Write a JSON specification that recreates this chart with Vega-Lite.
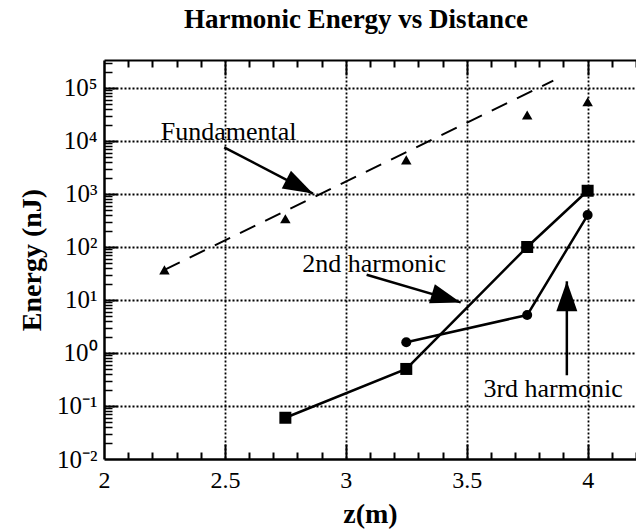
{
  "$schema": "https://vega.github.io/schema/vega-lite/v6.json",
  "width": 532,
  "height": 399,
  "autosize": {"type": "none"},
  "padding": {"left": 104, "top": 60, "right": 0, "bottom": 72},
  "background": "white",
  "view": {"stroke": null},
  "config": {"font": "Liberation Serif"},
  "title": {"text": "Harmonic Energy vs Distance", "font": "Liberation Serif", "fontSize": 27, "fontWeight": "bold", "color": "black", "offset": 25, "dx": -14},
  "datasets": {
    "points": [
      {"series": "Fundamental", "z": 2.25, "energy": 37},
      {"series": "Fundamental", "z": 2.75, "energy": 340},
      {"series": "Fundamental", "z": 3.25, "energy": 4400},
      {"series": "Fundamental", "z": 3.75, "energy": 31000},
      {"series": "Fundamental", "z": 4.0, "energy": 55000},
      {"series": "2nd harmonic", "z": 2.75, "energy": 0.06},
      {"series": "2nd harmonic", "z": 3.25, "energy": 0.5},
      {"series": "2nd harmonic", "z": 3.75, "energy": 100},
      {"series": "2nd harmonic", "z": 4.0, "energy": 1150},
      {"series": "3rd harmonic", "z": 3.25, "energy": 1.6},
      {"series": "3rd harmonic", "z": 3.75, "energy": 5.2},
      {"series": "3rd harmonic", "z": 4.0, "energy": 400}
    ],
    "fit": [
      {"z": 2.25, "energy": 37},
      {"z": 3.858, "energy": 137000}
    ],
    "notes": [
      {"label": "Fundamental", "z": 2.235, "energy": 10600},
      {"label": "2nd harmonic", "z": 2.82, "energy": 34},
      {"label": "3rd harmonic", "z": 3.569, "energy": 0.15}
    ],
    "arrows": [
      {"name": "Fundamental", "z": 2.497, "energy": 7570, "z2": 2.864, "energy2": 1020},
      {"name": "2nd harmonic", "z": 3.086, "energy": 30, "z2": 3.475, "energy2": 9.0},
      {"name": "3rd harmonic", "z": 3.914, "energy": 0.38, "z2": 3.914, "energy2": 22.5}
    ]
  },
  "resolve": {"axis": {"x": "independent", "y": "independent"}},
  "layer": [
    {
      "data": {"name": "fit"},
      "mark": {"type": "line", "color": "black", "strokeWidth": 2, "strokeDash": [17, 11]},
      "encoding": {
        "x": {"field": "z", "type": "quantitative", "scale": {"domain": [2, 4.2], "nice": false, "zero": false},
          "axis": {"orient": "bottom", "values": [2, 2.5, 3, 3.5, 4], "format": "~g", "ticks": false, "grid": false, "domain": true, "domainColor": "black", "domainWidth": 2.5, "labelFont": "Liberation Serif", "labelFontWeight": "normal", "labelFontSize": 24, "labelColor": "black", "labelPadding": 9, "labelFlush": false, "labelOverlap": false, "title": "z(m)", "titleFont": "Liberation Serif", "titleFontSize": 28, "titleFontWeight": "bold", "titleColor": "black", "titlePadding": 8}},
        "y": {"field": "energy", "type": "quantitative", "scale": {"type": "log", "domain": [0.01, 337000], "nice": false},
          "axis": {"orient": "left", "values": [0.01, 0.1, 1, 10, 100, 1000, 10000, 100000], "labelExpr": "'10' + ['⁻²','⁻¹','⁰','¹','²','³','⁴','⁵'][round(log(datum.value)/LN10) + 2]", "ticks": false, "grid": false, "domain": true, "domainColor": "black", "domainWidth": 2.5, "labelFont": "Liberation Serif", "labelFontWeight": "normal", "labelFontSize": 25, "labelColor": "black", "labelPadding": 7, "labelFlush": false, "labelOverlap": false, "title": "Energy (nJ)", "titleFont": "Liberation Serif", "titleFontSize": 28, "titleFontWeight": "bold", "titleColor": "black", "titlePadding": 10}}
      }
    },
    {
      "data": {"name": "points"},
      "transform": [{"filter": "datum.series === '2nd harmonic'"}],
      "mark": {"type": "line", "color": "black", "strokeWidth": 2.5},
      "encoding": {
        "x": {"field": "z", "type": "quantitative", "scale": {"domain": [2, 4.2], "nice": false, "zero": false},
          "axis": {"orient": "bottom", "values": [2.1, 2.2, 2.3, 2.4, 2.6, 2.7, 2.8, 2.9, 3.1, 3.2, 3.3, 3.4, 3.6, 3.7, 3.8, 3.9, 4.1, 4.2], "tickSize": -7, "tickWidth": 2, "tickColor": "black", "labels": false, "domain": false, "grid": false, "title": null}},
        "y": {"field": "energy", "type": "quantitative", "scale": {"type": "log", "domain": [0.01, 337000], "nice": false},
          "axis": {"orient": "left", "values": [0.02, 0.03, 0.04, 0.05, 0.06, 0.07, 0.08, 0.09, 0.2, 0.3, 0.4, 0.5, 0.6, 0.7, 0.8, 0.9, 2, 3, 4, 5, 6, 7, 8, 9, 20, 30, 40, 50, 60, 70, 80, 90, 200, 300, 400, 500, 600, 700, 800, 900, 2000, 3000, 4000, 5000, 6000, 7000, 8000, 9000, 20000, 30000, 40000, 50000, 60000, 70000, 80000, 90000, 200000, 300000], "tickSize": -8, "tickWidth": 1.5, "tickColor": "black", "labels": false, "domain": false, "grid": false, "title": null}}
      }
    },
    {
      "data": {"name": "points"},
      "transform": [{"filter": "datum.series === '3rd harmonic'"}],
      "mark": {"type": "line", "color": "black", "strokeWidth": 2.5},
      "encoding": {
        "x": {"field": "z", "type": "quantitative", "scale": {"domain": [2, 4.2], "nice": false, "zero": false},
          "axis": {"orient": "bottom", "values": [2.5, 3, 3.5, 4], "tickSize": -15, "tickWidth": 2, "tickColor": "black", "labels": false, "domain": false, "grid": true, "gridColor": "black", "gridDash": [2, 2], "gridWidth": 1.8, "gridOpacity": 1, "title": null}},
        "y": {"field": "energy", "type": "quantitative", "scale": {"type": "log", "domain": [0.01, 337000], "nice": false},
          "axis": {"orient": "left", "values": [0.1, 1, 10, 100, 1000, 10000, 100000], "tickSize": -13, "tickWidth": 2, "tickColor": "black", "labels": false, "domain": false, "grid": true, "gridColor": "black", "gridDash": [2, 2], "gridWidth": 1.8, "gridOpacity": 1, "title": null}}
      }
    },
    {
      "data": {"name": "points"},
      "transform": [{"filter": "datum.series === 'Fundamental'"}],
      "mark": {"type": "point", "shape": "triangle-up", "size": 110, "filled": true, "color": "black", "opacity": 1},
      "encoding": {
        "x": {"field": "z", "type": "quantitative", "scale": {"domain": [2, 4.2], "nice": false, "zero": false},
          "axis": {"orient": "top", "values": [2.1, 2.2, 2.3, 2.4, 2.6, 2.7, 2.8, 2.9, 3.1, 3.2, 3.3, 3.4, 3.6, 3.7, 3.8, 3.9, 4.1, 4.2], "tickSize": -7, "tickWidth": 2, "tickColor": "black", "labels": false, "domain": true, "domainColor": "black", "domainWidth": 2, "grid": false, "title": null}},
        "y": {"field": "energy", "type": "quantitative", "scale": {"type": "log", "domain": [0.01, 337000], "nice": false}, "axis": null}
      }
    },
    {
      "data": {"name": "points"},
      "transform": [{"filter": "datum.series === '2nd harmonic'"}],
      "mark": {"type": "point", "shape": "square", "size": 144, "filled": true, "color": "black", "opacity": 1},
      "encoding": {
        "x": {"field": "z", "type": "quantitative", "scale": {"domain": [2, 4.2], "nice": false, "zero": false},
          "axis": {"orient": "top", "values": [2.5, 3, 3.5, 4], "tickSize": -15, "tickWidth": 2, "tickColor": "black", "labels": false, "domain": false, "grid": false, "title": null}},
        "y": {"field": "energy", "type": "quantitative", "scale": {"type": "log", "domain": [0.01, 337000], "nice": false}, "axis": null}
      }
    },
    {
      "data": {"name": "points"},
      "transform": [{"filter": "datum.series === '3rd harmonic'"}],
      "mark": {"type": "point", "shape": "circle", "size": 100, "filled": true, "color": "black", "opacity": 1},
      "encoding": {
        "x": {"field": "z", "type": "quantitative", "scale": {"domain": [2, 4.2], "nice": false, "zero": false}, "axis": null},
        "y": {"field": "energy", "type": "quantitative", "scale": {"type": "log", "domain": [0.01, 337000], "nice": false}, "axis": null}
      }
    },
    {
      "data": {"name": "arrows"},
      "mark": {"type": "rule", "color": "black", "strokeWidth": 2.5},
      "encoding": {
        "x": {"field": "z", "type": "quantitative", "scale": {"domain": [2, 4.2], "nice": false, "zero": false}, "axis": null},
        "x2": {"field": "z2"},
        "y": {"field": "energy", "type": "quantitative", "scale": {"type": "log", "domain": [0.01, 337000], "nice": false}, "axis": null},
        "y2": {"field": "energy2"}
      }
    },
    {
      "data": {"name": "arrows"},
      "transform": [{"filter": "datum.name === 'Fundamental'"}],
      "mark": {"type": "point", "shape": "M0,0 L0.33,1 L-0.33,1 Z", "size": 3600, "angle": 117.6, "filled": true, "color": "black", "opacity": 1},
      "encoding": {
        "x": {"field": "z2", "type": "quantitative", "scale": {"domain": [2, 4.2], "nice": false, "zero": false}, "axis": null},
        "y": {"field": "energy2", "type": "quantitative", "scale": {"type": "log", "domain": [0.01, 337000], "nice": false}, "axis": null}
      }
    },
    {
      "data": {"name": "arrows"},
      "transform": [{"filter": "datum.name === '2nd harmonic'"}],
      "mark": {"type": "point", "shape": "M0,0 L0.33,1 L-0.33,1 Z", "size": 3600, "angle": 106.9, "filled": true, "color": "black", "opacity": 1},
      "encoding": {
        "x": {"field": "z2", "type": "quantitative", "scale": {"domain": [2, 4.2], "nice": false, "zero": false}, "axis": null},
        "y": {"field": "energy2", "type": "quantitative", "scale": {"type": "log", "domain": [0.01, 337000], "nice": false}, "axis": null}
      }
    },
    {
      "data": {"name": "arrows"},
      "transform": [{"filter": "datum.name === '3rd harmonic'"}],
      "mark": {"type": "point", "shape": "M0,0 L0.35,1 L-0.35,1 Z", "size": 3600, "angle": 0, "filled": true, "color": "black", "opacity": 1},
      "encoding": {
        "x": {"field": "z2", "type": "quantitative", "scale": {"domain": [2, 4.2], "nice": false, "zero": false}, "axis": null},
        "y": {"field": "energy2", "type": "quantitative", "scale": {"type": "log", "domain": [0.01, 337000], "nice": false}, "axis": null}
      }
    },
    {
      "data": {"name": "notes"},
      "mark": {"type": "text", "align": "left", "baseline": "alphabetic", "font": "Liberation Serif", "fontWeight": "normal", "fontSize": 26, "color": "black"},
      "encoding": {
        "x": {"field": "z", "type": "quantitative", "scale": {"domain": [2, 4.2], "nice": false, "zero": false}, "axis": null},
        "y": {"field": "energy", "type": "quantitative", "scale": {"type": "log", "domain": [0.01, 337000], "nice": false}, "axis": null},
        "text": {"field": "label"}
      }
    }
  ]
}
